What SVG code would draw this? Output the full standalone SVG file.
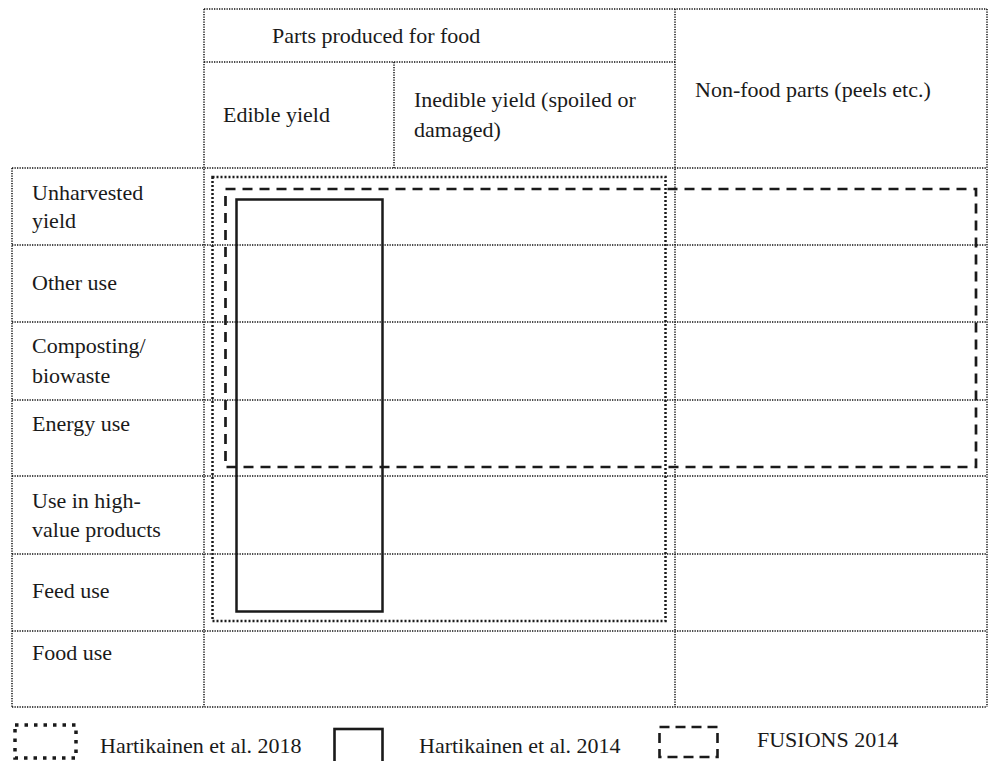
<svg xmlns="http://www.w3.org/2000/svg" width="990" height="761" viewBox="0 0 990 761">
<style>
text{font-family:"Liberation Serif","Times New Roman",serif;font-size:22px;fill:#1a1a1a}
.grid{stroke:#111;stroke-width:1.5;stroke-dasharray:1.3 1.2;fill:none}
.h18{stroke:#1a1a1a;stroke-width:2.5;stroke-dasharray:2 2;fill:none}
.f14{stroke:#1a1a1a;stroke-width:2.7;stroke-dasharray:10 7;fill:none}
.h14{stroke:#1a1a1a;stroke-width:2.5;fill:none}
</style>
<rect width="990" height="761" fill="#fff"/>
<g id="grid">
<path class="grid" d="M204 9H987M204 62H675M12 168H987M12 245H987M12 322H987M12 400H987M12 476H987M12 554H987M12 631H987M12 707H987"/>
<path class="grid" d="M12 168V707M204 9V707M394 62V168M675 9V707M987 9V707"/>
</g>
<g id="header-food"><text x="272" y="43">Parts produced for food</text></g>
<g id="header-edible"><text x="223" y="122">Edible yield</text></g>
<g id="header-inedible"><text x="414" y="107">Inedible yield (spoiled or</text><text x="414" y="137">damaged)</text></g>
<g id="header-nonfood"><text x="695" y="97">Non-food parts (peels etc.)</text></g>
<g id="row-unharvested"><text x="32" y="200">Unharvested</text><text x="32" y="228">yield</text></g>
<g id="row-other"><text x="32" y="290">Other use</text></g>
<g id="row-composting"><text x="32" y="353">Composting/</text><text x="32" y="383">biowaste</text></g>
<g id="row-energy"><text x="32" y="431">Energy use</text></g>
<g id="row-highvalue"><text x="32" y="508">Use in high-</text><text x="32" y="537">value products</text></g>
<g id="row-feed"><text x="32" y="598">Feed use</text></g>
<g id="row-food"><text x="32" y="660">Food use</text></g>
<g id="scope-hartikainen2018"><rect class="h18" x="212.5" y="177" width="453" height="444"/></g>
<g id="scope-fusions2014"><rect class="f14" x="225.5" y="189" width="750.5" height="278"/></g>
<g id="scope-hartikainen2014"><rect class="h14" x="236.5" y="199.5" width="146" height="412"/></g>
<g id="connectors"></g>
<g id="legend-hartikainen2018"><rect x="15" y="725" width="61" height="33" fill="none" stroke="#1a1a1a" stroke-width="3.5" stroke-dasharray="3.5 6"/><text x="100" y="753">Hartikainen et al. 2018</text></g>
<g id="legend-hartikainen2014"><rect x="334.5" y="729" width="48" height="36" fill="none" stroke="#1a1a1a" stroke-width="2.6"/><text x="419" y="753">Hartikainen et al. 2014</text></g>
<g id="legend-fusions2014"><rect x="659.5" y="727" width="58" height="30" fill="none" stroke="#1a1a1a" stroke-width="2.6" stroke-dasharray="10 6"/><text x="757" y="747">FUSIONS 2014</text></g>
</svg>
